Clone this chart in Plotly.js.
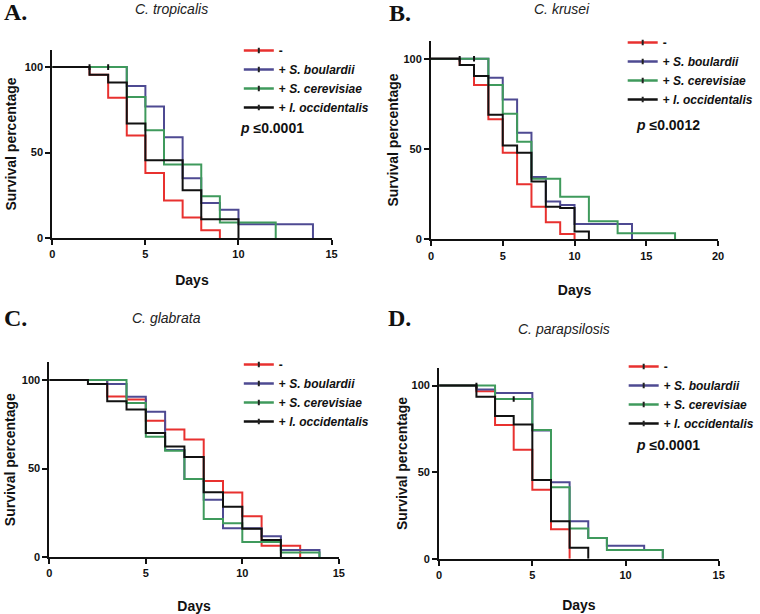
<!DOCTYPE html>
<html><head><meta charset="utf-8">
<script src="https://cdn.plot.ly/plotly-3.0.1.min.js"></script>
<style>html,body{margin:0;padding:0;background:#fff}</style>
</head><body><div id="chart" style="width:760px;height:614px"></div>
<script>
// ---- Data (Kaplan-Meier step curves) ----
const seriesNames = ['-', '+ <i>S. boulardii</i>', '+ <i>S. cerevisiae</i>', '+ <i>I. occidentalis</i>'];
const seriesColors = ['#e8312f', '#4e4a92', '#3f9a5c', '#111111'];

// A. C. tropicalis
const daysA_ctrl = [0, 2, 3, 4, 5, 6, 7, 8, 9];
const survA_ctrl = [100, 95.5, 82, 60, 38, 22, 12, 4.5, 0];
const daysA_sb = [0, 4, 5, 6, 7, 8, 9, 10, 14];
const survA_sb = [100, 89, 77, 59, 35, 20.5, 16.5, 8, 0];
const daysA_sc = [0, 4, 5, 6, 8, 9, 12];
const survA_sc = [100, 82.5, 63, 43, 24.5, 9, 0];
const daysA_io = [0, 2, 3, 4, 5, 7, 8, 10];
const survA_io = [100, 95.5, 91, 67, 45.5, 28, 11, 0];
const censorDaysA = [2, 3];
const censorSurvA = [100, 100];

// B. C. krusei
const daysB_ctrl = [0, 2, 3, 4, 5, 6, 7, 8, 9, 10];
const survB_ctrl = [100, 96.5, 85.5, 66.5, 48, 30.5, 18, 9.5, 3, 0];
const daysB_sb = [0, 4, 5, 6, 7, 8, 9, 10, 14];
const survB_sb = [100, 89.5, 77.5, 59, 34.5, 21, 19, 8.5, 0];
const daysB_sc = [0, 4, 5, 6, 7, 9, 11, 13, 17];
const survB_sc = [100, 85.5, 69.5, 54, 33.5, 23.5, 10, 3.3, 0];
const daysB_io = [0, 2, 3, 4, 5, 6, 7, 8, 9, 10, 11];
const survB_io = [100, 96.5, 90.5, 69, 52, 48, 32, 18, 17.4, 4.3, 0];
const censorDaysB = [2, 3];
const censorSurvB = [100, 100];

// C. C. glabrata
const daysC_ctrl = [0, 3, 4, 5, 6, 7, 8, 9, 10, 11, 13];
const survC_ctrl = [100, 90.7, 89, 77, 72, 66.4, 43, 36.5, 23, 6.3, 0];
const daysC_sb = [0, 3, 4, 5, 6, 7, 8, 9, 11, 12, 14];
const survC_sb = [100, 97.7, 90.6, 82, 60.5, 44, 32.3, 16.3, 11.7, 4, 0];
const daysC_sc = [0, 4, 5, 6, 7, 8, 9, 10, 12, 14];
const survC_sc = [100, 87, 68, 60, 44, 21.5, 19, 8.5, 2.5, 0];
const daysC_io = [0, 2, 3, 4, 5, 6, 7, 8, 9, 10, 11, 12];
const survC_io = [100, 97.7, 88, 83.3, 70, 62.4, 56.5, 36.6, 28.4, 16, 9.6, 0];
const censorDaysC = [];
const censorSurvC = [];

// D. C. parapsilosis
const daysD_ctrl = [0, 2, 3, 4, 5, 6, 7];
const survD_ctrl = [100, 96.7, 77.2, 62.9, 39.8, 17, 0];
const daysD_sb = [0, 2, 3, 5, 6, 7, 8, 9, 11, 12];
const survD_sb = [100, 97.7, 95.8, 74, 44.2, 21.6, 12, 7.5, 5, 0];
const daysD_sc = [0, 3, 5, 6, 7, 8, 9, 12];
const survD_sc = [100, 92.3, 74.4, 41.3, 17.4, 12, 5, 0];
const daysD_io = [0, 2, 3, 4, 5, 6, 7, 8];
const survD_io = [100, 93.5, 82.4, 77.6, 45.5, 21.6, 6.3, 0];
const censorDaysD = [2, 4];
const censorSurvD = [100, 92.3];

const panelLetters = ['A.', 'B.', 'C.', 'D.'];
const panelTitles = ['C. tropicalis', 'C. krusei', 'C. glabrata', 'C. parapsilosis'];
const pValues = ['p ≤0.0001', 'p ≤0.0012', '', 'p ≤0.0001'];
const xTicksA = [0, 5, 10, 15];
const xTicksB = [0, 5, 10, 15, 20];
const yTicks = [0, 50, 100];

// ---- Build ----
const FONT = 'Liberation Sans, Arial, sans-serif';
const panels = [
  {days: [daysA_ctrl, daysA_sb, daysA_sc, daysA_io], surv: [survA_ctrl, survA_sb, survA_sc, survA_io], cx: censorDaysA, cy: censorSurvA, xmax: 15, ticks: xTicksA,
   xd: [53/760, 336/760], yd: [1-238/614, 1-50/614], legend: {x: 242/760, y: 1-36/614}, p: {x: 241, y: 128},
   letter: {x: 2, y: 12}, title: {x: 174, y: 9}, xs: 16, ys: 5},
  {days: [daysB_ctrl, daysB_sb, daysB_sc, daysB_io], surv: [survB_ctrl, survB_sb, survB_sc, survB_io], cx: censorDaysB, cy: censorSurvB, xmax: 20, ticks: xTicksB,
   xd: [436.7/760, 727.7/760], yd: [1-239.3/614, 1-40.7/614], legend: {x: 631/760, y: 1-28/614}, p: {x: 642, y: 125},
   letter: {x: 392, y: 13}, title: {x: 569, y: 9}, xs: 25, ys: 1},
  {days: [daysC_ctrl, daysC_sb, daysC_sc, daysC_io], surv: [survC_ctrl, survC_sb, survC_sc, survC_io], cx: censorDaysC, cy: censorSurvC, xmax: 15, ticks: xTicksA,
   xd: [50/760, 343.3/760], yd: [1-557/614, 1-362.3/614], legend: {x: 242/760, y: 1-350/614}, p: null,
   letter: {x: 2, y: 318}, title: {x: 169, y: 318}, xs: 23, ys: 3},
  {days: [daysD_ctrl, daysD_sb, daysD_sc, daysD_io], surv: [survD_ctrl, survD_sb, survD_sc, survD_io], cx: censorDaysD, cy: censorSurvD, xmax: 15, ticks: xTicksA,
   xd: [445/760, 728.3/760], yd: [1-558.7/614, 1-368.3/614], legend: {x: 632/760, y: 1-352/614}, p: {x: 642, y: 445},
   letter: {x: 391, y: 318}, title: {x: 572, y: 329}, xs: 20, ys: 1}
];

const traces = [];
const layout = {
  width: 760, height: 614,
  margin: {l: 0, r: 0, t: 0, b: 0},
  paper_bgcolor: '#fff', plot_bgcolor: '#fff',
  font: {family: FONT, color: '#111'},
  showlegend: true,
  annotations: []
};

panels.forEach((pn, i) => {
  const k = i === 0 ? '' : String(i + 1);
  const xa = 'x' + k, ya = 'y' + k;
  const lg = 'legend' + k;
  pn.days.forEach((d, s) => {
    traces.push({
      type: 'scatter', mode: 'lines', x: d, y: pn.surv[s], xaxis: xa, yaxis: ya,
      line: {shape: 'hv', color: seriesColors[s], width: 2}, showlegend: false,
      name: seriesNames[s], hoverinfo: 'skip'
    });
  });
  traces.push({
    type: 'scatter', mode: 'markers', x: pn.cx, y: pn.cy, xaxis: xa, yaxis: ya,
    marker: {symbol: 'line-ns', size: 4, line: {width: 2, color: '#111'}},
    showlegend: false, hoverinfo: 'skip'
  });
  seriesNames.forEach((nm, s) => {
    traces.push({
      type: 'scatter', mode: 'lines+markers', x: [null], y: [null], xaxis: xa, yaxis: ya,
      line: {color: seriesColors[s], width: 2.5},
      marker: {symbol: 'line-ns', size: 4, color: '#222', line: {width: 2, color: '#222'}},
      name: nm, legend: lg, showlegend: true
    });
  });
  layout['xaxis' + k] = {
    domain: pn.xd, anchor: ya, range: [0, pn.xmax], tickvals: pn.ticks, ticktext: pn.ticks.map(String),
    showline: true, linecolor: '#111', linewidth: 2, ticks: 'outside', ticklen: 5, tickwidth: 2, tickcolor: '#111',
    showgrid: false, zeroline: false, fixedrange: true,
    tickfont: {size: 11, weight: 'bold', family: FONT, color: '#111'},
    title: {text: 'Days', font: {size: 14, weight: 'bold', family: FONT, color: '#111'}, standoff: pn.xs}
  };
  layout['yaxis' + k] = {
    domain: pn.yd, anchor: xa, range: [0, 110], tickvals: yTicks, ticktext: yTicks.map(String),
    showline: true, linecolor: '#111', linewidth: 2, ticks: 'outside', ticklen: 5, tickwidth: 2, tickcolor: '#111',
    showgrid: false, zeroline: false, fixedrange: true,
    tickfont: {size: 11, weight: 'bold', family: FONT, color: '#111'},
    title: {text: 'Survival percentage', font: {size: 14, weight: 'bold', family: FONT, color: '#111'}, standoff: pn.ys}
  };
  layout[lg] = {
    x: pn.legend.x, y: pn.legend.y, xanchor: 'left', yanchor: 'top',
    bgcolor: 'rgba(0,0,0,0)', borderwidth: 0, tracegroupgap: 0,
    font: {size: 12, weight: 'bold', family: FONT, color: '#111'}
  };
  layout.annotations.push({
    xref: 'paper', yref: 'paper', x: pn.letter.x / 760, y: 1 - pn.letter.y / 614, xanchor: 'left', yanchor: 'middle',
    text: '<b>' + panelLetters[i] + '</b>', showarrow: false,
    font: {family: 'Liberation Serif, Times New Roman, serif', size: 24, color: '#111'}
  });
  layout.annotations.push({
    xref: 'paper', yref: 'paper', x: pn.title.x / 760, y: 1 - pn.title.y / 614, xanchor: 'center', yanchor: 'middle',
    text: '<i>' + panelTitles[i] + '</i>', showarrow: false,
    font: {family: FONT, size: 14, color: '#222'}
  });
  if (pn.p && pValues[i]) {
    const pv = pValues[i].replace(/^p/, '<i>p</i>');
    layout.annotations.push({
      xref: 'paper', yref: 'paper', x: pn.p.x / 760, y: 1 - pn.p.y / 614, xanchor: 'left', yanchor: 'middle',
      text: '<b>' + pv + '</b>', showarrow: false,
      font: {family: FONT, size: 14, color: '#111'}
    });
  }
});

Plotly.newPlot('chart', traces, layout, {staticPlot: true, displayModeBar: false});
</script>
</body></html>
